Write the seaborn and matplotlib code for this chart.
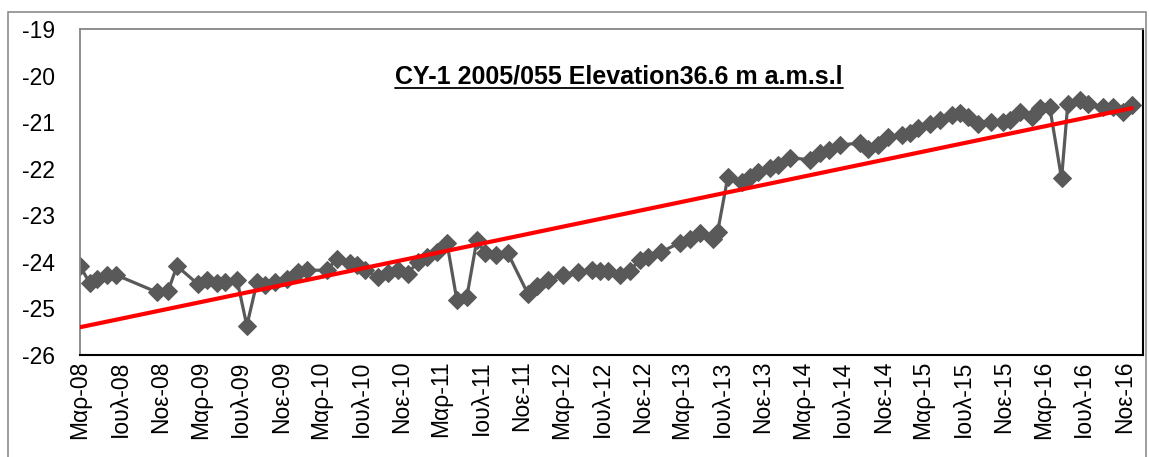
import numpy as np
import pandas as pd
import matplotlib
matplotlib.use("Agg")
import matplotlib.pyplot as plt
import matplotlib.dates as mdates
import seaborn as sns
from matplotlib.lines import Line2D
from matplotlib.patches import Rectangle

dates = [
    "2008-03-01", "2008-03-31", "2008-04-22", "2008-05-22", "2008-06-18",
    "2008-10-20", "2008-11-23", "2008-12-20", "2009-02-22", "2009-03-21",
    "2009-04-20", "2009-05-15", "2009-06-20", "2009-07-20", "2009-08-20",
    "2009-09-13", "2009-10-13", "2009-11-19", "2009-12-22", "2010-01-18",
    "2010-03-20", "2010-04-19", "2010-05-29", "2010-06-19", "2010-07-13",
    "2010-08-22", "2010-09-21", "2010-10-21", "2010-11-20", "2010-12-21",
    "2011-01-17", "2011-02-16", "2011-03-19", "2011-04-18", "2011-05-18",
    "2011-06-18", "2011-07-12", "2011-08-14", "2011-09-20", "2011-11-19",
    "2011-12-17", "2012-01-19", "2012-03-04", "2012-04-19", "2012-05-31",
    "2012-06-25", "2012-07-19", "2012-08-24", "2012-09-24", "2012-10-24",
    "2012-11-17", "2012-12-27", "2013-02-22", "2013-03-25", "2013-04-24",
    "2013-06-02", "2013-06-17", "2013-07-18", "2013-08-29", "2013-09-22",
    "2013-10-17", "2013-11-22", "2013-12-16", "2014-01-22", "2014-03-23",
    "2014-04-23", "2014-05-20", "2014-06-22", "2014-08-22", "2014-09-15",
    "2014-10-16", "2014-11-15", "2014-12-27", "2015-01-21", "2015-02-14",
    "2015-03-22", "2015-04-22", "2015-05-28", "2015-06-21", "2015-07-15",
    "2015-08-15", "2015-09-23", "2015-10-30", "2015-11-20", "2015-12-20",
    "2016-01-25", "2016-02-19", "2016-03-20", "2016-04-25", "2016-05-14",
    "2016-06-19", "2016-07-13", "2016-08-28", "2016-09-27", "2016-10-27",
    "2016-11-24",
]
levels = [
    -24.09, -24.46, -24.37, -24.28, -24.28,
    -24.65, -24.63, -24.09, -24.48, -24.38,
    -24.45, -24.43, -24.38, -25.37, -24.43,
    -24.50, -24.43, -24.37, -24.21, -24.18,
    -24.18, -23.93, -24.02, -24.07, -24.18,
    -24.32, -24.23, -24.18, -24.25, -24.00,
    -23.89, -23.78, -23.59, -24.82, -24.76,
    -23.52, -23.82, -23.85, -23.82, -24.68,
    -24.52, -24.39, -24.28, -24.21, -24.18,
    -24.19, -24.19, -24.28, -24.19, -23.95,
    -23.89, -23.79, -23.59, -23.50, -23.39,
    -23.50, -23.35, -22.17, -22.28, -22.17,
    -22.06, -21.99, -21.92, -21.76, -21.81,
    -21.67, -21.60, -21.49, -21.45, -21.58,
    -21.49, -21.31, -21.28, -21.24, -21.13,
    -21.03, -20.95, -20.85, -20.80, -20.88,
    -21.03, -20.99, -20.99, -20.95, -20.78,
    -20.88, -20.70, -20.67, -22.21, -20.60,
    -20.52, -20.60, -20.67, -20.67, -20.78,
    -20.63,
]

month_names = {3: "Μαρ", 7: "Ιουλ", 11: "Νοε"}
tick_dates = pd.date_range("2008-03-01", "2016-11-01", freq="4MS")
tick_labels = [f"{month_names[d.month]}-{d:%y}" for d in tick_dates]
y_ticks = list(range(-26, -18))
title = "CY-1 2005/055 Elevation36.6 m a.m.s.l"

sns.set_theme(style="white")
plt.rcParams["font.family"] = ["Liberation Sans", "DejaVu Sans"]

df = pd.DataFrame({"date": pd.to_datetime(dates), "level": levels})

fig = plt.figure(figsize=(11.49, 4.57), dpi=100)
ax = fig.add_axes([80 / 1149, 1 - 355 / 457, 1063 / 1149, 326 / 457])

sns.lineplot(data=df, x="date", y="level", ax=ax, color="#595959",
             linewidth=2.3, marker="D", markersize=9.5,
             markeredgecolor="#595959", sort=False)

# linear trendline like the excel one
xnum = mdates.date2num(df["date"])
slope, icpt = np.polyfit(xnum, df["level"], 1)
xl = np.array([xnum.min(), xnum.max()])
ax.plot(xl, slope * xl + icpt, color="red", linewidth=3, zorder=5)

ax.set_xlim(pd.Timestamp("2008-03-01"), pd.Timestamp("2016-12-28"))
ax.set_ylim(-26, -19)
ax.set_yticks(y_ticks)
ax.set_yticklabels([str(v) for v in y_ticks])
ax.set_xticks(tick_dates)
ax.set_xticklabels(tick_labels, rotation=90)
ax.tick_params(axis="y", length=0, pad=18, labelsize=16.5, colors="black")
ax.tick_params(axis="x", length=0, pad=4, labelsize=16.5, colors="black")
ax.set_xlabel("")
ax.set_ylabel("")
ax.grid(False)

for side in ["left", "top"]:
    ax.spines[side].set_color("#868686")
    ax.spines[side].set_linewidth(1.3)
for side in ["bottom", "right"]:
    ax.spines[side].set_color("black")
    ax.spines[side].set_linewidth(1.5)

t = ax.text(0.507, 0.853, title, transform=ax.transAxes, ha="center",
            va="center", fontsize=18, fontweight="bold", color="black")

# underline the title
fig.canvas.draw()
bb = t.get_window_extent().transformed(fig.transFigure.inverted())
uy = bb.y0 + 1 / 457
fig.add_artist(Line2D([bb.x0, bb.x1], [uy, uy], transform=fig.transFigure,
                      color="black", linewidth=1.3))

# outer chart frame
fig.add_artist(Rectangle((8 / 1149, -0.1), 1138 / 1149, 1.1 - 12 / 457,
                         transform=fig.transFigure, fill=False,
                         edgecolor="#8c8c8c", linewidth=1.2))

fig.savefig("out.png", dpi=100)
